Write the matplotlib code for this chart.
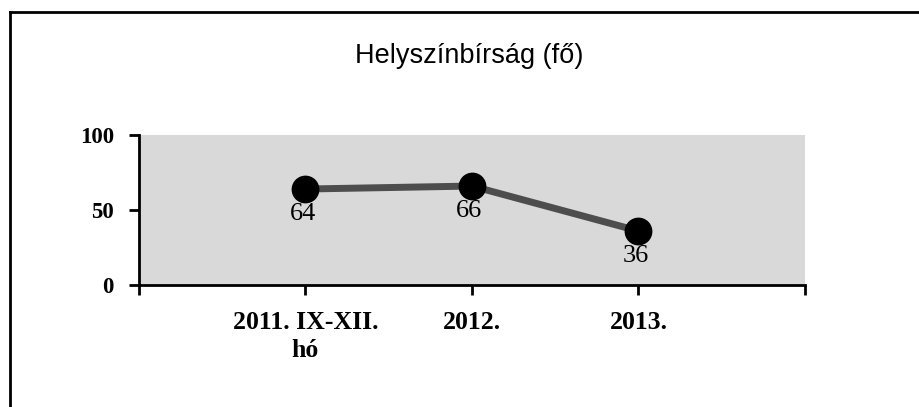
import matplotlib
matplotlib.use("Agg")
import matplotlib.pyplot as plt
from matplotlib.lines import Line2D

# data
categories = ["2011. IX-XII.\nhó", "2012.", "2013."]
values = [64, 66, 36]
yticks = [0, 50, 100]
title = "Helyszínbírság (fő)"

fig = plt.figure(figsize=(9.19, 4.07), dpi=100)
ax = fig.add_axes([0.151, 0.300, 0.725, 0.368])

# dotted grey plot area
ax.set_facecolor("#d9d9d9")

x = list(range(1, len(values) + 1))
ax.plot(x, values, color="#4d4d4d", linewidth=5, zorder=2)
ax.plot(x, values, linestyle="none", marker="o", markersize=19,
        color="black", zorder=3)

for xi, v in zip(x, values):
    ax.annotate(str(v), (xi, v), xytext=(-2, -18), textcoords="offset points",
                ha="center", va="center", fontsize=19,
                family="Liberation Serif", color="black", zorder=4)

ax.set_xlim(0, len(values) + 1)
ax.set_ylim(0, 100)
ax.set_yticks(yticks)
ax.set_yticklabels([str(t) for t in yticks], family="Liberation Serif",
                   fontweight="bold", fontsize=16.5)
ax.set_xticks(x)
ax.set_xticklabels(categories, family="Liberation Serif", fontweight="bold",
                   fontsize=18.5, linespacing=1.25)
ax.set_xticks([0, len(values) + 1], minor=True)

ax.tick_params(axis="y", direction="out", length=7, width=2, pad=11)
ax.tick_params(axis="x", which="both", direction="out", length=7, width=2, pad=12)

for s in ["top", "right"]:
    ax.spines[s].set_visible(False)
for s in ["left", "bottom"]:
    ax.spines[s].set_linewidth(2)
    ax.spines[s].set_color("black")

fig.text(0.511, 0.862, title, ha="center", va="center", fontsize=19.5,
         family="Liberation Sans", fontweight="medium")

# outer frame (left and top edges visible in the scan)
fig.add_artist(Line2D([0.011, 0.011], [0.0, 0.970], transform=fig.transFigure,
                      color="black", linewidth=2))
fig.add_artist(Line2D([0.011, 0.999], [0.970, 0.970], transform=fig.transFigure,
                      color="black", linewidth=2))

fig.savefig("out.png", dpi=100)
